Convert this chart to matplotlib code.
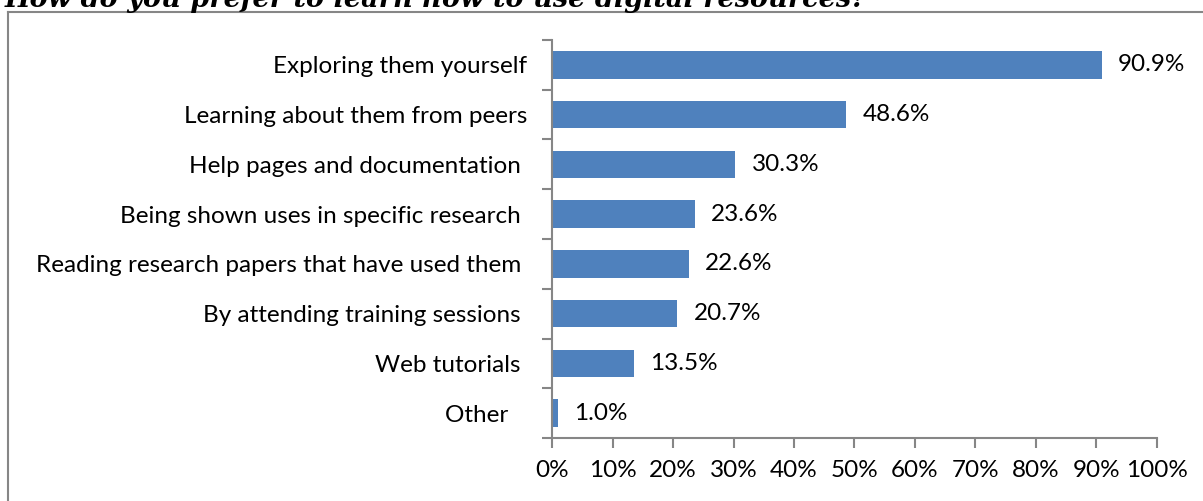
import matplotlib
matplotlib.use("Agg")
import matplotlib.pyplot as plt
import numpy as np
from matplotlib.ticker import FixedLocator, PercentFormatter

categories = [
    "Exploring them yourself",
    "Learning about them from peers",
    "Help pages and documentation ",
    "Being shown uses in specific research ",
    "Reading research papers that have used them ",
    "By attending training sessions ",
    "Web tutorials ",
    "Other   ",
]
values = [90.9, 48.6, 30.3, 23.6, 22.6, 20.7, 13.5, 1.0]
xticks = [0, 10, 20, 30, 40, 50, 60, 70, 80, 90, 100]

plt.rcParams['font.family'] = ['Lato', 'DejaVu Sans']
grey = '#868686'
fs = 17.5

fig = plt.figure(figsize=(12.03, 5.01), dpi=100)
ax = fig.add_axes([0.4589, 0.1257, 0.5028, 0.7945])

y = np.arange(len(categories))
ax.barh(y, values, height=0.55, color='#4F81BD')
for yi, v in zip(y, values):
    ax.text(v + 2.7, yi, f"{v:.1f}%", va='center', ha='left', fontsize=fs)

ax.set_ylim(len(categories) - 0.5, -0.5)
ax.set_xlim(0, 100)
ax.set_yticks(y)
ax.set_yticklabels(categories, fontsize=fs)
ax.yaxis.set_minor_locator(FixedLocator(np.arange(-0.5, len(categories), 1)))
ax.tick_params(axis='y', which='major', length=0, pad=18)
ax.tick_params(axis='y', which='minor', length=7, width=1.5, color=grey)
ax.set_xticks(xticks)
ax.xaxis.set_major_formatter(PercentFormatter(decimals=0))
ax.tick_params(axis='x', length=7, width=1.5, color=grey, labelsize=fs, pad=9)

for s in ['top', 'right']:
    ax.spines[s].set_visible(False)
for s in ['left', 'bottom']:
    ax.spines[s].set_color(grey)
    ax.spines[s].set_linewidth(1.5)

# outer chart border (only left and top show in the crop)
fig.add_artist(plt.Line2D([7.5 / 1203, 7.5 / 1203], [0, 1 - 11.5 / 501],
                          color=grey, lw=1.5, transform=fig.transFigure))
fig.add_artist(plt.Line2D([7.5 / 1203, 1], [1 - 11.5 / 501, 1 - 11.5 / 501],
                          color=grey, lw=1.5, transform=fig.transFigure))

fig.text(5 / 1203, 1 - 7 / 501, "How do you prefer to learn how to use digital resources?",
         family=['DejaVu Serif'], fontweight='bold', fontstyle='italic',
         fontsize=19.5, va='baseline', ha='left')

fig.savefig("out.png", dpi=100)
